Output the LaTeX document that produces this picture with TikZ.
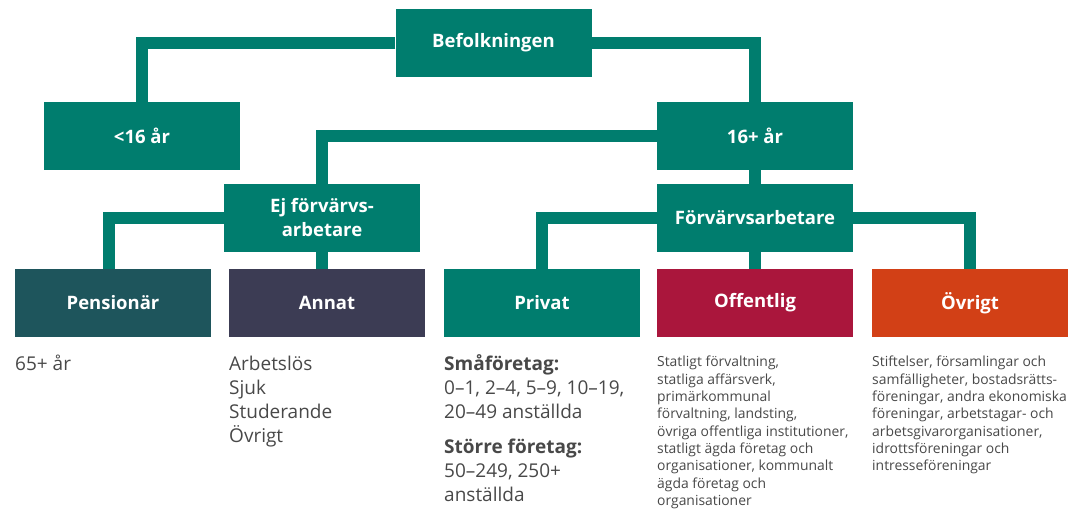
\documentclass[tikz,border=0pt]{standalone}
\usepackage{fontspec}
\setmainfont{Open Sans}

\definecolor{grn}{RGB}{0,125,110}
\definecolor{pens}{RGB}{30,85,92}
\definecolor{annat}{RGB}{60,60,84}
\definecolor{offe}{RGB}{170,22,60}
\definecolor{ovr}{RGB}{210,64,22}
\definecolor{txtgray}{RGB}{72,72,72}

\begin{document}
\begin{tikzpicture}[x=1pt,y=-1pt]

\useasboundingbox (0,0) rectangle (1075,514);

\tikzstyle box=[rectangle, minimum width=196pt, minimum height=68pt, inner sep=0pt, text=white, align=center, font=\fontsize{18.5}{24}\selectfont\bfseries]
\tikzstyle link=[draw=grn, line width=12pt]
\tikzstyle txt=[anchor=north west, inner sep=0pt, align=left, text=txtgray, font=\fontsize{19}{24}\selectfont]
\tikzstyle smalltxt=[txt, font=\fontsize{13.9}{17.3}\selectfont]

\node (b) [box, fill=grn] at (493.5,43) {Befolkningen};

\node (u) [box, fill=grn] at (142,136) {<16 år};
\node (o) [box, fill=grn] at (755,136) {16+ år};

\node (e) [box, fill=grn] at (322,218) {Ej förvärvs-\\arbetare};
\node (f) [box, fill=grn] at (755,218) {Förvärvsarbetare};

\node (c1) [box, fill=pens]  at (113,303) {Pensionär};
\node (c2) [box, fill=annat] at (327,303) {Annat};
\node (c3) [box, fill=grn]   at (542,303) {Privat};
\node (c4) [box, fill=offe]  at (755,303) {Offentlig};
\node (c5) [box, fill=ovr]   at (970,303) {Övrigt};

\draw [link] (b.west) -| (u.north);
\draw [link] (b.east) -| (o.north);
\draw [link] (o.west) -| (e.north);
\draw [link] (o.south) -- (f.north);
\draw [link] (e.west) -| ([xshift=-4.5pt]c1.north);
\draw [link] (e.south) -- (e.south |- c2.north);
\draw [link] (f.west) -| (c3.north);
\draw [link] (f.south) -- (c4.north);
\draw [link] (f.east) -| (c5.north);

\node (t1) [txt] at (15,353) {\strut 65+ år};
\node (t2) [txt] at (229,353) {\strut Arbetslös\\Sjuk\\Studerande\\Övrigt};
\node (t3) [txt] at (444,353) {\strut\textbf{Småföretag:}\\0–1, 2–4, 5–9, 10–19,\\20–49 anställda\\[11pt]\textbf{Större företag:}\\50–249, 250+\\anställda};
\node (t4) [smalltxt] at (657,354.6) {\strut Statligt förvaltning,\\statliga affärsverk,\\primärkommunal\\förvaltning, landsting,\\övriga offentliga institutioner,\\statligt ägda företag och\\organisationer, kommunalt\\ägda företag och\\organisationer};
\node (t5) [smalltxt] at (872,354.6) {\strut Stiftelser, församlingar och\\samfälligheter, bostadsrätts-\\föreningar, andra ekonomiska\\föreningar, arbetstagar- och\\arbetsgivarorganisationer,\\idrottsföreningar och\\intresseföreningar};

\end{tikzpicture}
\end{document}
